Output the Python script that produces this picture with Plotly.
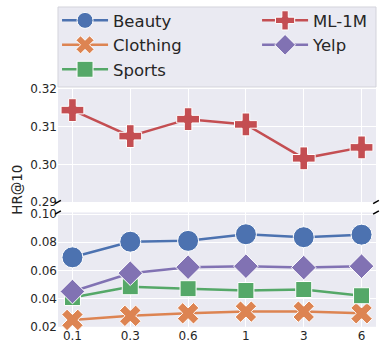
import plotly.graph_objects as go
from plotly.subplots import make_subplots

# eixo x (categorias)
pesos = ['0.1', '0.3', '0.6', '1', '3', '6']

# HR@10 por dataset
beauty = [0.0693, 0.0804, 0.0810, 0.0857, 0.0836, 0.0854]
clothing = [0.0248, 0.0277, 0.0295, 0.0307, 0.0307, 0.0295]
sports = [0.0407, 0.0484, 0.0470, 0.0457, 0.0464, 0.0420]
ml1m = [0.3144, 0.3075, 0.3120, 0.3106, 0.3016, 0.3045]
yelp = [0.0450, 0.0580, 0.0623, 0.0630, 0.0620, 0.0630]

top_ticks = [0.29, 0.30, 0.31, 0.32]
bottom_ticks = [0.02, 0.04, 0.06, 0.08, 0.10]

cor_fundo = '#EAEAF2'
texto = '#262626'

fig = make_subplots(rows=2, cols=1, shared_xaxes=True)

# (nome, valores, cor, simbolo, tamanho, linha do subplot, legenda/coluna)
series = [
    ('Beauty', beauty, '#4C72B0', 'circle', 21, 2, 'legend'),
    ('Clothing', clothing, '#DD8452', 'x', 19, 2, 'legend'),
    ('Sports', sports, '#55A868', 'square', 16, 2, 'legend'),
    ('ML-1M', ml1m, '#C44E52', 'cross', 19, 1, 'legend2'),
    ('Yelp', yelp, '#8172B3', 'diamond', 19, 2, 'legend2'),
]
for nome, vals, cor, simbolo, tam, linha, leg in series:
    fig.add_trace(go.Scatter(
        x=pesos, y=vals, name=nome, mode='lines+markers',
        line=dict(color=cor, width=2.5),
        marker=dict(symbol=simbolo, size=tam, color=cor,
                    line=dict(color='white', width=1)),
        cliponaxis=False, legend=leg, legendgroup=nome,
    ), row=linha, col=1)

estilo_legenda = dict(
    orientation='v', xanchor='left', yanchor='top',
    bgcolor='rgba(0,0,0,0)', borderwidth=0,
    font=dict(size=16.5, color=texto), itemsizing='trace',
    itemwidth=46, tracegroupgap=0,
)

fig.update_layout(
    width=386, height=354,
    paper_bgcolor='white',
    plot_bgcolor=cor_fundo,
    font=dict(family='DejaVu Sans', color=texto, size=12),
    margin=dict(l=58, r=10, t=7, b=26, autoexpand=False),
    showlegend=True,
    legend=dict(x=-0.003, y=1.012, **estilo_legenda),
    legend2=dict(x=0.626, y=1.012, **estilo_legenda),
    yaxis=dict(domain=[0.3925, 0.7445]),
    yaxis2=dict(domain=[0.0037, 0.36]),
)
fig.update_xaxes(
    type='category', range=[-0.25, 5.25], showgrid=True, gridcolor='white',
    gridwidth=1, showline=False, zeroline=False, ticks='',
)
fig.update_xaxes(showticklabels=False, row=1, col=1)
fig.update_xaxes(tickfont=dict(size=12), row=2, col=1)
fig.update_yaxes(showgrid=True, gridcolor='white', gridwidth=1, zeroline=False,
                 showline=False, ticks='', tickformat='.2f')
fig.update_yaxes(range=[0.29, 0.32], tickvals=top_ticks, row=1, col=1)
fig.update_yaxes(range=[0.0199, 0.1012], tickvals=bottom_ticks, row=2, col=1)

# moldura da legenda (duas colunas)
fig.add_shape(type='rect', xref='paper', yref='paper', x0=0, x1=1,
              y0=0.7508, y1=1.0, fillcolor=cor_fundo,
              line=dict(color='#D3D3DB', width=1), layer='below')

# título do eixo y compartilhado
fig.add_annotation(text='HR@10', textangle=-90, xref='paper', yref='paper',
                   x=-0.16, y=0.431, showarrow=False, font=dict(size=13.5))

# marcas de quebra do eixo
for xp in [0, 1]:
    for yp in [0.3925, 0.36]:
        fig.add_shape(type='line', xref='paper', yref='paper',
                      x0=xp - 0.009, y0=yp - 0.005, x1=xp + 0.009, y1=yp + 0.005,
                      line=dict(color='black', width=1.5))

fig.write_html('out.html', config={'displayModeBar': False},
               post_script="document.body.style.margin='0';")
